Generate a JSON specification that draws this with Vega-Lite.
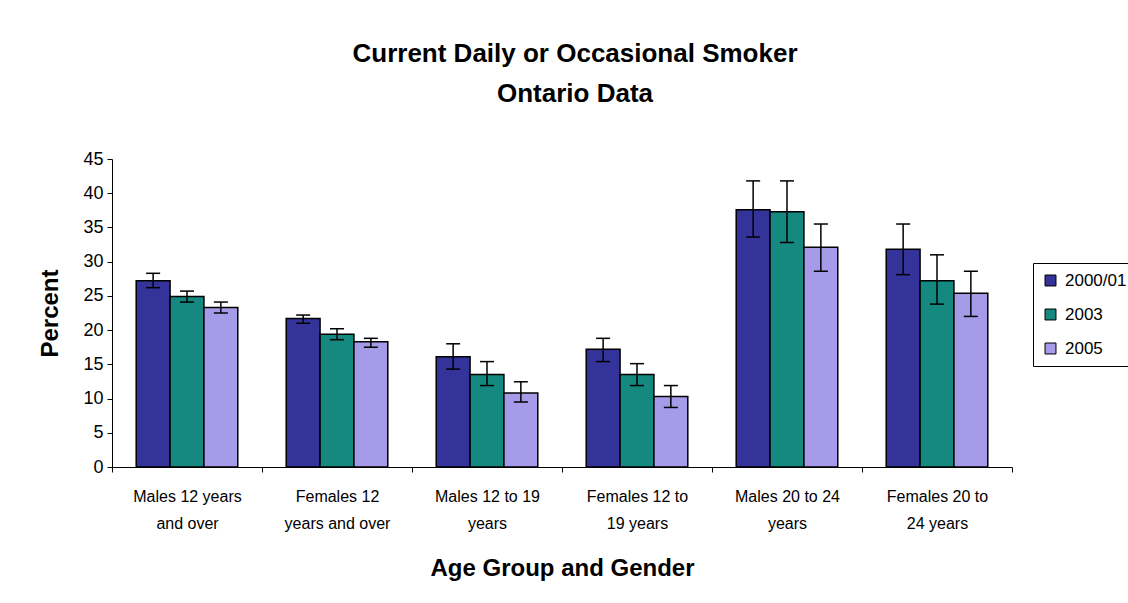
{
  "$schema": "https://vega.github.io/schema/vega-lite/v6.json",
  "width": 900,
  "height": 308,
  "autosize": {"type": "none"},
  "padding": {"left": 112, "top": 159, "right": 116, "bottom": 136},
  "background": "white",
  "config": {"font": "Liberation Sans", "view": {"stroke": null}},
  "title": {
    "text": ["Current Daily or Occasional Smoker", "Ontario Data"],
    "fontSize": 26,
    "fontWeight": "bold",
    "lineHeight": 40,
    "offset": 43,
    "dx": 13,
    "color": "black"
  },
  "data": {
    "values": [
      {"group": "Males 12 years and over", "year": "2000/01", "value": 27.2, "lower": 26.2, "upper": 28.3},
      {"group": "Males 12 years and over", "year": "2003", "value": 24.9, "lower": 24.1, "upper": 25.7},
      {"group": "Males 12 years and over", "year": "2005", "value": 23.3, "lower": 22.5, "upper": 24.1},
      {"group": "Females 12 years and over", "year": "2000/01", "value": 21.7, "lower": 21.0, "upper": 22.2},
      {"group": "Females 12 years and over", "year": "2003", "value": 19.4, "lower": 18.6, "upper": 20.2},
      {"group": "Females 12 years and over", "year": "2005", "value": 18.3, "lower": 17.5, "upper": 18.8},
      {"group": "Males 12 to 19 years", "year": "2000/01", "value": 16.1, "lower": 14.3, "upper": 18.0},
      {"group": "Males 12 to 19 years", "year": "2003", "value": 13.5, "lower": 11.9, "upper": 15.4},
      {"group": "Males 12 to 19 years", "year": "2005", "value": 10.8, "lower": 9.5, "upper": 12.45},
      {"group": "Females 12 to 19 years", "year": "2000/01", "value": 17.2, "lower": 15.4, "upper": 18.8},
      {"group": "Females 12 to 19 years", "year": "2003", "value": 13.5, "lower": 11.9, "upper": 15.1},
      {"group": "Females 12 to 19 years", "year": "2005", "value": 10.3, "lower": 8.7, "upper": 11.9},
      {"group": "Males 20 to 24 years", "year": "2000/01", "value": 37.6, "lower": 33.6, "upper": 41.8},
      {"group": "Males 20 to 24 years", "year": "2003", "value": 37.3, "lower": 32.8, "upper": 41.8},
      {"group": "Males 20 to 24 years", "year": "2005", "value": 32.1, "lower": 28.6, "upper": 35.5},
      {"group": "Females 20 to 24 years", "year": "2000/01", "value": 31.8, "lower": 28.1, "upper": 35.5},
      {"group": "Females 20 to 24 years", "year": "2003", "value": 27.2, "lower": 23.8, "upper": 31.0},
      {"group": "Females 20 to 24 years", "year": "2005", "value": 25.4, "lower": 22.0, "upper": 28.6}
    ]
  },
  "encoding": {
    "x": {
      "field": "group",
      "type": "nominal",
      "sort": null,
      "scale": {"paddingInner": 0, "paddingOuter": 0},
      "axis": {
        "title": "Age Group and Gender",
        "titleFontSize": 24,
        "titleFontWeight": "bold",
        "titleColor": "black",
        "titlePadding": 25,
        "labelAngle": 0,
        "labelFontSize": 16,
        "labelColor": "black",
        "labelPadding": 16,
        "labelLineHeight": 27,
        "labelLimit": 0,
        "labelOverlap": false,
        "tickBand": "extent",
        "tickColor": "black",
        "tickSize": 5,
        "domainColor": "black",
        "domainWidth": 1,
        "labelExpr": "datum.value == 'Males 12 years and over' ? ['Males 12 years', 'and over'] : datum.value == 'Females 12 years and over' ? ['Females 12', 'years and over'] : datum.value == 'Males 12 to 19 years' ? ['Males 12 to 19', 'years'] : datum.value == 'Females 12 to 19 years' ? ['Females 12 to', '19 years'] : datum.value == 'Males 20 to 24 years' ? ['Males 20 to 24', 'years'] : datum.value == 'Females 20 to 24 years' ? ['Females 20 to', '24 years'] : ''"
      }
    },
    "xOffset": {
      "field": "year",
      "type": "nominal",
      "scale": {"paddingInner": 0, "paddingOuter": 0.715}
    }
  },
  "layer": [
    {
      "mark": {"type": "bar", "stroke": "black", "strokeWidth": 1.5},
      "encoding": {
        "y": {
          "field": "value",
          "type": "quantitative",
          "scale": {"domain": [0, 45]},
          "axis": {
            "values": [0, 5, 10, 15, 20, 25, 30, 35, 40, 45],
            "labelOverlap": false,
            "grid": false,
            "title": "Percent",
            "titleFontSize": 24,
            "titleFontWeight": "bold",
            "titleColor": "black",
            "titlePadding": 20,
            "labelFontSize": 18,
            "labelColor": "black",
            "labelPadding": 4,
            "tickColor": "black",
            "tickSize": 5,
            "domainColor": "black"
          }
        },
        "color": {
          "field": "year",
          "type": "nominal",
          "scale": {"domain": ["2000/01", "2003", "2005"], "range": ["#343399", "#158880", "#A59BE9"]},
          "legend": {
            "title": null,
            "orient": "none",
            "legendX": 921,
            "legendY": 104,
            "strokeColor": "black",
            "padding": 9,
            "symbolType": "square",
            "symbolSize": 120,
            "symbolStrokeColor": "black",
            "symbolStrokeWidth": 1,
            "symbolOpacity": 1,
            "labelFontSize": 17,
            "labelColor": "black",
            "rowPadding": 16,
            "labelOffset": 6
          }
        }
      }
    },
    {
      "mark": {"type": "rule", "color": "black", "strokeWidth": 1.5},
      "encoding": {
        "y": {
          "field": "lower",
          "type": "quantitative",
          "axis": {
            "values": [0, 5, 10, 15, 20, 25, 30, 35, 40, 45],
            "labelOverlap": false,
            "grid": false,
            "title": "Percent",
            "titleFontSize": 24,
            "titleFontWeight": "bold",
            "titleColor": "black",
            "titlePadding": 20,
            "labelFontSize": 18,
            "labelColor": "black",
            "labelPadding": 4,
            "tickColor": "black",
            "tickSize": 5,
            "domainColor": "black"
          }
        },
        "y2": {"field": "upper"}
      }
    },
    {
      "mark": {"type": "tick", "color": "black", "thickness": 1.5, "size": 14, "opacity": 1},
      "encoding": {
        "y": {
          "field": "lower",
          "type": "quantitative",
          "axis": {
            "values": [0, 5, 10, 15, 20, 25, 30, 35, 40, 45],
            "labelOverlap": false,
            "grid": false,
            "title": "Percent",
            "titleFontSize": 24,
            "titleFontWeight": "bold",
            "titleColor": "black",
            "titlePadding": 20,
            "labelFontSize": 18,
            "labelColor": "black",
            "labelPadding": 4,
            "tickColor": "black",
            "tickSize": 5,
            "domainColor": "black"
          }
        }
      }
    },
    {
      "mark": {"type": "tick", "color": "black", "thickness": 1.5, "size": 14, "opacity": 1},
      "encoding": {
        "y": {
          "field": "upper",
          "type": "quantitative",
          "axis": {
            "values": [0, 5, 10, 15, 20, 25, 30, 35, 40, 45],
            "labelOverlap": false,
            "grid": false,
            "title": "Percent",
            "titleFontSize": 24,
            "titleFontWeight": "bold",
            "titleColor": "black",
            "titlePadding": 20,
            "labelFontSize": 18,
            "labelColor": "black",
            "labelPadding": 4,
            "tickColor": "black",
            "tickSize": 5,
            "domainColor": "black"
          }
        }
      }
    }
  ]
}
